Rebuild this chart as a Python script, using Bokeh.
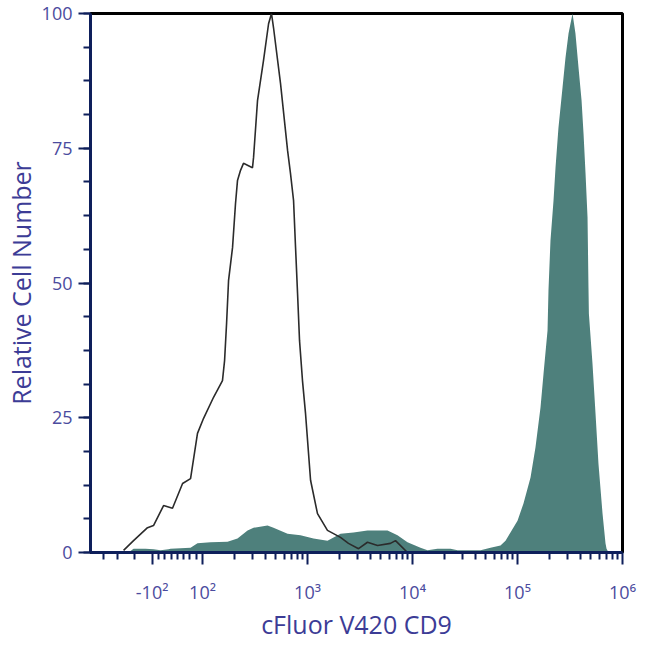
import math
from bokeh.plotting import figure
from bokeh.models import Range1d, FixedTicker, SingleIntervalTicker
from bokeh.embed import file_html
from bokeh.resources import INLINE

# x positions are in display units of the biexponential axis (10^k sits at k)
control_x = [1.248, 1.343, 1.476, 1.533, 1.629, 1.714, 1.810, 1.886, 1.952, 2.010,
             2.105, 2.190, 2.210, 2.229, 2.248, 2.286, 2.314, 2.333, 2.362, 2.390,
             2.476, 2.486, 2.524, 2.581, 2.629, 2.657, 2.676, 2.743, 2.810, 2.838,
             2.867, 2.886, 2.905, 2.924, 2.952, 2.981, 3.029, 3.095, 3.190, 3.314,
             3.390, 3.486, 3.571, 3.667, 3.790, 3.838, 3.952]
control_y = [0.4, 2.2, 4.6, 5.0, 8.7, 8.2, 12.8, 13.7, 22.1, 24.9,
             28.8, 31.9, 35.6, 42.5, 50.5, 56.6, 64.7, 69.0, 70.9, 72.2,
             71.4, 73.3, 83.9, 91.3, 98.1, 100.0, 97.4, 87.0, 74.6, 70.3,
             65.3, 56.6, 48.1, 39.3, 31.9, 25.8, 13.4, 7.2, 4.1, 2.8,
             1.7, 0.7, 1.9, 1.3, 1.7, 2.2, 0.0]

stained_x = [1.295, 1.343, 1.457, 1.533, 1.600, 1.676, 1.695, 1.886, 1.952, 2.076,
             2.238, 2.333, 2.429, 2.486, 2.619, 2.676, 2.810, 2.933, 3.057, 3.190,
             3.248, 3.314, 3.438, 3.571, 3.762, 3.857, 3.952, 4.076, 4.143, 4.238,
             4.362, 4.429, 4.648, 4.743, 4.838, 4.886, 4.933, 5.000, 5.057, 5.124,
             5.171, 5.219, 5.248, 5.286, 5.295, 5.314, 5.343, 5.362, 5.390, 5.429,
             5.457, 5.486, 5.524, 5.552, 5.581, 5.610, 5.629, 5.648, 5.667, 5.676,
             5.680, 5.714, 5.743, 5.771, 5.810, 5.838, 5.848, 5.867]
stained_y = [0.0, 0.7, 0.7, 0.6, 0.4, 0.6, 0.7, 0.9, 1.7, 1.9,
             2.0, 2.6, 4.1, 4.6, 5.0, 4.6, 3.5, 3.2, 2.6, 2.2,
             2.8, 3.5, 3.7, 4.1, 4.1, 3.2, 1.9, 0.9, 0.4, 0.7,
             0.7, 0.4, 0.4, 0.9, 1.3, 2.2, 3.7, 5.9, 9.1, 13.9,
             19.5, 26.9, 33.2, 41.2, 48.6, 57.9, 65.3, 71.4, 78.8, 86.3,
             91.8, 96.3, 100.0, 96.3, 90.0, 83.9, 77.7, 70.3, 62.2, 49.2,
             44.3, 35.1, 25.8, 16.5, 7.2, 1.7, 0.7, 0.0]

major_tick_values = [-100, 100, 1000, 10000, 100000, 1000000]
major_tick_labels = ["-10\u00b2", "10\u00b2", "10\u00b3", "10\u2074", "10\u2075", "10\u2076"]
minor_tick_values = [-700, -400, -200, -75, -50, -25, 0, 25, 50, 75] + \
    [k * 10 ** d for d in range(2, 6) for k in range(2, 10)]


def to_display(v):
    if v >= 100:
        return math.log10(v)
    if v > -100:
        return 1.76 + 0.24 * v / 100.0
    return 1.52 - 0.55 * (math.log10(-v) - 2)


major_pos = [to_display(v) for v in major_tick_values]
minor_pos = [to_display(v) for v in minor_tick_values]

p = figure(width=640, height=644, output_backend="svg", toolbar_location=None,
           x_range=Range1d(0.933, 6.0), y_range=Range1d(0, 100),
           min_border_left=90, min_border_right=18, min_border_top=13,
           min_border_bottom=92)
p.xgrid.visible = False
p.ygrid.visible = False
p.outline_line_color = "black"
p.outline_line_width = 3
p.background_fill_color = "white"
p.border_fill_color = "white"

p.varea(x=stained_x, y1=0, y2=stained_y, fill_color="#4e807c", fill_alpha=1.0)
p.line(control_x, control_y, line_color="#2b2b2b", line_width=1.6)

FONT = "Open Sans"
LABEL_COLOR = "#4b4b9e"
AXIS_COLOR = "#0e1f5b"

p.xaxis.ticker = FixedTicker(ticks=major_pos, minor_ticks=minor_pos)
p.xaxis.major_label_overrides = {pos: lab for pos, lab in zip(major_pos, major_tick_labels)}
p.yaxis.ticker = SingleIntervalTicker(interval=25, num_minor_ticks=4)

for ax in (p.xaxis[0], p.yaxis[0]):
    ax.axis_line_color = AXIS_COLOR
    ax.axis_line_width = 3
    ax.major_tick_line_color = AXIS_COLOR
    ax.minor_tick_line_color = AXIS_COLOR
    ax.major_tick_line_width = 2
    ax.minor_tick_line_width = 2
    ax.major_tick_in = 0
    ax.minor_tick_in = 0
    ax.major_tick_out = 12
    ax.minor_tick_out = 7
    ax.major_label_text_font = FONT
    ax.major_label_text_color = LABEL_COLOR
    ax.major_label_text_font_size = "18px"
    ax.axis_label_text_font = FONT
    ax.axis_label_text_color = "#3c3c96"
    ax.axis_label_text_font_style = "normal"

p.xaxis.axis_label = "cFluor V420 CD9"
p.yaxis.axis_label = "Relative Cell Number"
p.xaxis.axis_label_text_font_size = "25px"
p.yaxis.axis_label_text_font_size = "25px"
p.xaxis.major_label_standoff = 15
p.xaxis.axis_label_standoff = 0
p.yaxis.major_label_standoff = 6
p.yaxis.axis_label_standoff = 1

open("out.html", "w").write(file_html(p, INLINE))
